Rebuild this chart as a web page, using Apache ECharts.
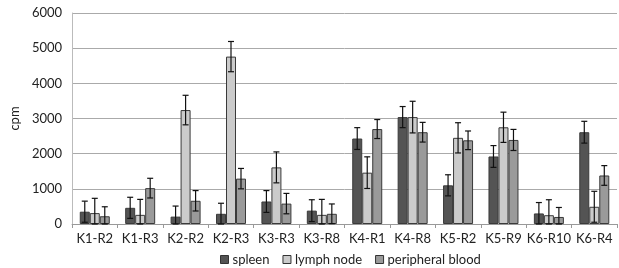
<!DOCTYPE html>
<html>
<head>
<meta charset="utf-8">
<script src="https://cdn.jsdelivr.net/npm/echarts@6/dist/echarts.min.js"></script>
<style>
html,body{margin:0;padding:0;background:#fff;}
#chart{width:619px;height:268px;}
</style>
</head>
<body>
<div id="chart"></div>
<script>
var categories = ['K1-R2','K1-R3','K2-R2','K2-R3','K3-R3','K3-R8','K4-R1','K4-R8','K5-R2','K5-R9','K6-R10','K6-R4'];
var seriesNames = ['spleen','lymph node','peripheral blood'];
var spleen = [350, 460, 210, 290, 640, 380, 2430, 3040, 1100, 1920, 300, 2610];
var lymph = [310, 260, 3240, 4760, 1610, 260, 1460, 3040, 2450, 2750, 250, 490];
var blood = [220, 1020, 660, 1290, 580, 290, 2700, 2610, 2380, 2390, 200, 1380];
var spleenErr = [300, 300, 300, 300, 310, 310, 310, 300, 300, 310, 310, 310];
var lymphErr = [420, 440, 420, 430, 440, 440, 450, 450, 430, 430, 440, 440];
var bloodErr = [270, 280, 290, 290, 290, 280, 270, 280, 265, 300, 270, 280];
var yTicks = [0, 1000, 2000, 3000, 4000, 5000, 6000];

var colors = ['#545454', '#cbcbcb', '#9a9a9a'];
var values = [spleen, lymph, blood];
var errors = [spleenErr, lymphErr, bloodErr];
var barW = 10;

var chart = echarts.init(document.getElementById('chart'));

function errorSeries(idx) {
    var data = [];
    for (var i = 0; i < categories.length; i++) {
        data.push([i, values[idx][i] - errors[idx][i], values[idx][i] + errors[idx][i]]);
    }
    return {
        type: 'custom',
        name: seriesNames[idx] + ' err',
        z: 10,
        silent: true,
        renderItem: function (params, api) {
            var x = api.value(0);
            var lo = api.coord([x, Math.max(0, api.value(1))]);
            var hi = api.coord([x, api.value(2)]);
            var cx = lo[0] + (idx - 1) * barW;
            var cap = 3;
            var st = { stroke: '#111', lineWidth: 1.2 };
            return {
                type: 'group',
                children: [
                    { type: 'line', shape: { x1: cx, y1: hi[1], x2: cx, y2: lo[1] }, style: st },
                    { type: 'line', shape: { x1: cx - cap, y1: hi[1], x2: cx + cap, y2: hi[1] }, style: st },
                    { type: 'line', shape: { x1: cx - cap, y1: lo[1], x2: cx + cap, y2: lo[1] }, style: st }
                ]
            };
        },
        encode: { x: 0, y: [1, 2] },
        data: data
    };
}

var series = [];
for (var s = 0; s < 3; s++) {
    series.push({
        name: seriesNames[s],
        type: 'bar',
        barWidth: barW,
        barGap: '0%',
        itemStyle: { color: colors[s], borderColor: '#3a3a3a', borderWidth: 1 },
        data: values[s]
    });
}
for (var s = 0; s < 3; s++) series.push(errorSeries(s));

chart.setOption({
    animation: false,
    textStyle: { fontFamily: 'Lato' },
    grid: { left: 61, right: 2, top: 13, bottom: 44 },
    legend: {
        data: seriesNames,
        top: 253,
        left: 220,
        padding: 0,
        icon: 'rect',
        itemWidth: 8,
        itemHeight: 8,
        itemGap: 13,
        itemStyle: { borderColor: '#333', borderWidth: 1 },
        textStyle: { fontSize: 13, color: '#222', fontFamily: 'Lato', padding: [0, 0, 0, -1] }
    },
    xAxis: {
        type: 'category',
        data: categories,
        axisLine: { lineStyle: { color: '#999' } },
        axisTick: { show: true, alignWithLabel: false, length: 4, lineStyle: { color: '#999' } },
        axisLabel: { color: '#222', fontSize: 13, margin: 8, interval: 0 }
    },
    yAxis: {
        type: 'value',
        min: 0,
        max: 6000,
        interval: 1000,
        name: 'cpm',
        nameLocation: 'middle',
        nameGap: 44,
        nameRotate: 90,
        nameTextStyle: { color: '#222', fontSize: 13 },
        axisLine: { show: true, lineStyle: { color: '#bbb' } },
        axisTick: { show: false },
        axisLabel: { color: '#222', fontSize: 13, margin: 10,
            formatter: function (v) { return yTicks.indexOf(v) >= 0 ? String(v) : ''; } },
        splitLine: { lineStyle: { color: '#aaa', width: 1 } }
    },
    series: series
});
</script>
</body>
</html>
